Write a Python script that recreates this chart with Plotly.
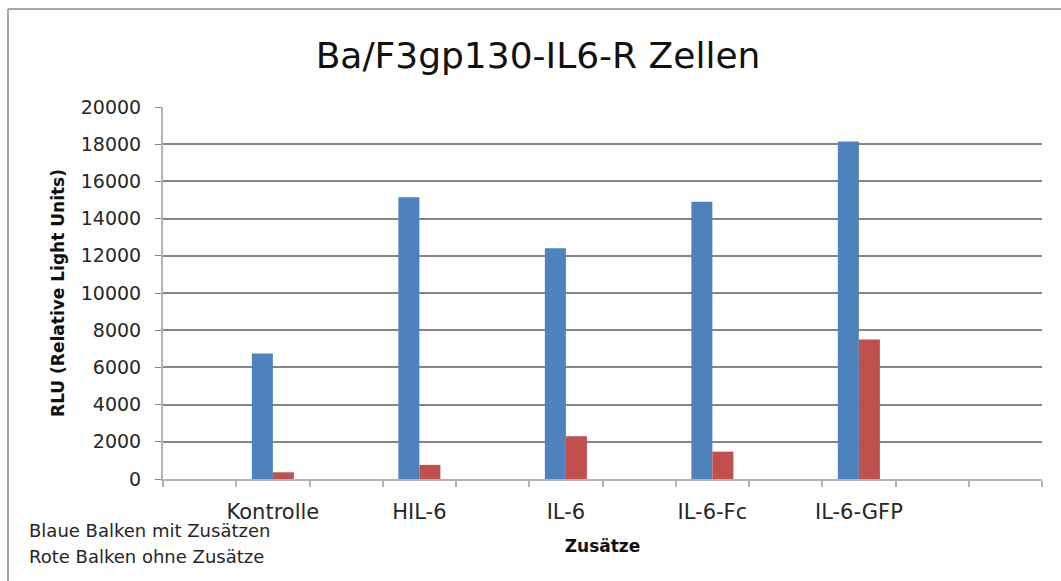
import plotly.graph_objects as go

# ---- data ----
categories = ["", "Kontrolle", "", "HIL-6", "", "IL-6", "", "IL-6-Fc", "", "IL-6-GFP", "", ""]
mit_zusaetzen = [None, 6750, None, 15150, None, 12400, None, 14900, None, 18150, None, None]
ohne_zusaetze = [None, 360, None, 760, None, 2300, None, 1470, None, 7500, None, None]
y_ticks = [0, 2000, 4000, 6000, 8000, 10000, 12000, 14000, 16000, 18000, 20000]

W, H = 1061, 581
L, R, T, B = 163, 19, 107, 102
pw, ph = W - L - R, H - T - B

def px_x(p):
    return (p - L) / pw

def px_y(p):
    return (H - B - p) / ph

x_pos = list(range(len(categories)))
label_pos = [i for i, c in enumerate(categories) if c]
label_txt = [categories[i] for i in label_pos]

FONT = "DejaVu Sans"
TXT = "#262626"
GRID = "#858585"
AXIS = "#b3b3b3"

bw = 0.287
fig = go.Figure()
fig.add_trace(go.Bar(x=x_pos, y=mit_zusaetzen, name="mit Zusätzen",
                     marker=dict(color="#4F81BD", line=dict(width=0)),
                     width=bw, offset=-bw))
fig.add_trace(go.Bar(x=x_pos, y=ohne_zusaetze, name="ohne Zusätze",
                     marker=dict(color="#C0504D", line=dict(width=0)),
                     width=bw, offset=0))

fig.update_layout(
    width=W, height=H,
    margin=dict(l=L, r=R, t=T, b=B, autoexpand=False),
    paper_bgcolor="white", plot_bgcolor="white",
    showlegend=False,
    font=dict(family=FONT, color=TXT),
    title=dict(text="Ba/F3gp130-IL6-R Zellen", font=dict(family=FONT, size=36, color="#111"),
               x=538 / W, xanchor="center", xref="container",
               y=1 - 55 / H, yanchor="middle", yref="container"),
    xaxis=dict(range=[-0.5, len(categories) - 0.5],
               tickvals=label_pos, ticktext=label_txt, ticks="",
               tickfont=dict(family=FONT, size=21, color=TXT),
               ticklabelstandoff=13, automargin=False,
               showgrid=False, zeroline=False,
               showline=True, linecolor=AXIS, linewidth=2,
               minor=dict(tickvals=[i - 0.5 for i in range(len(categories) + 1)],
                          ticks="outside", ticklen=6, tickcolor=AXIS, tickwidth=2,
                          showgrid=False),
               title=dict(text="<b>Zusätze</b>", font=dict(family=FONT, size=17, color="#111"),
                          standoff=17),
               fixedrange=True),
    yaxis=dict(range=[0, 20000], tickvals=y_ticks, tickformat="d", ticks="outside", ticklen=6,
               tickcolor=GRID, tickwidth=1,
               tickfont=dict(family=FONT, size=19, color=TXT),
               ticklabelstandoff=10, automargin=False,
               showgrid=True, gridcolor=GRID, gridwidth=1.5,
               zeroline=False, showline=True, linecolor=AXIS, linewidth=2,
               title=dict(text="<b>RLU (Relative Light Units)</b>",
                          font=dict(family=FONT, size=17, color="#111"), standoff=12),
               fixedrange=True),
)

fig.add_annotation(text="Blaue Balken mit Zusätzen", xref="paper", yref="paper",
                   x=px_x(27), y=px_y(530), xanchor="left", yanchor="middle",
                   showarrow=False, font=dict(family=FONT, size=18, color=TXT))
fig.add_annotation(text="Rote Balken ohne Zusätze", xref="paper", yref="paper",
                   x=px_x(27), y=px_y(556), xanchor="left", yanchor="middle",
                   showarrow=False, font=dict(family=FONT, size=18, color=TXT))

# chart frame (left and top edge visible)
fig.add_shape(type="line", xref="paper", yref="paper",
              x0=px_x(8), x1=px_x(1100), y0=px_y(9), y1=px_y(9),
              line=dict(color="#a6a6a6", width=2))
fig.add_shape(type="line", xref="paper", yref="paper",
              x0=px_x(8), x1=px_x(8), y0=px_y(9), y1=px_y(620),
              line=dict(color="#a6a6a6", width=2))

fig.write_html("out.html", config={"displayModeBar": False},
               post_script="document.body.style.margin='0';document.body.style.overflow='hidden';")
